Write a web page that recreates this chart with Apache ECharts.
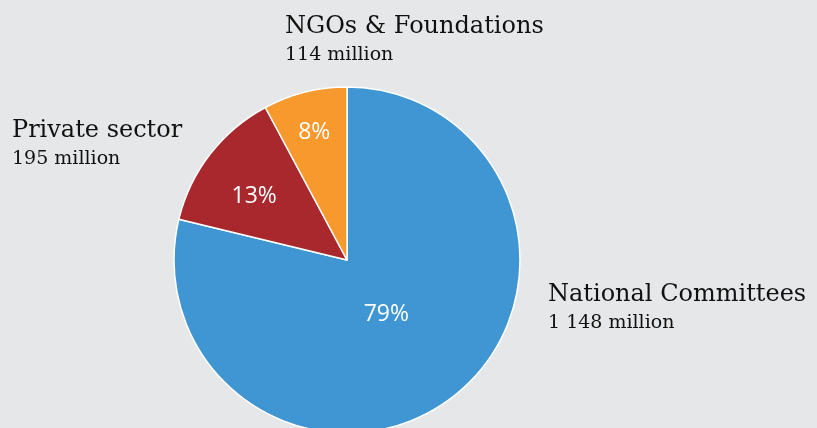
<!DOCTYPE html>
<html>
<head>
<meta charset="utf-8">
<script src="https://cdn.jsdelivr.net/npm/echarts@6/dist/echarts.min.js"></script>
<style>
  html, body { margin: 0; padding: 0; background: #e6e7e8; }
  #chart { width: 817px; height: 428px; }
</style>
</head>
<body>
<div id="chart"></div>
<script>
// funding sources, in millions
const categories = ['National Committees', 'Private sector', 'NGOs & Foundations']
const amounts = [1148, 195, 114]
const amountLabels = ['1 148 million', '195 million', '114 million']
const percentLabels = ['79%', '13%', '8%']

const colors = ['#4096d3', '#a9282d', '#f8992e']

// nudge of the percent labels from the default inner position
const percentOffsets = [[-16, -16], [-22, -9], [-11, -41]]
// where the name/amount labels sit
const namePositions = [[548, 280], [12, 116], [285, 12]]

const chart = echarts.init(document.getElementById('chart'))

const pieData = categories.map((name, i) => ({
  name: name,
  value: amounts[i],
  itemStyle: { color: colors[i] }
}))

chart.setOption({
  backgroundColor: '#e6e7e8',
  animation: false,
  series: [
    {
      type: 'pie',
      center: [347, 260],
      radius: [0, 173],
      startAngle: 90,
      clockwise: true,
      silent: true,
      data: pieData,
      itemStyle: { borderColor: '#ffffff', borderWidth: 1.5 },
      label: {
        position: 'inside',
        color: '#ffffff',
        fontFamily: 'Open Sans',
        fontSize: 23,
        formatter: (p) => percentLabels[p.dataIndex]
      },
      labelLine: { show: false },
      labelLayout: (p) => ({
        dx: percentOffsets[p.dataIndex][0],
        dy: percentOffsets[p.dataIndex][1]
      })
    },
    {
      type: 'pie',
      center: [347, 260],
      radius: [0, 173],
      startAngle: 90,
      silent: true,
      avoidLabelOverlap: false,
      data: categories.map((name, i) => ({ name: name, value: amounts[i] })),
      itemStyle: { color: 'rgba(0,0,0,0)', borderWidth: 0 },
      label: {
        position: 'outside',
        overflow: 'none',
        formatter: (p) => '{n|' + p.name + '}\n{v|' + amountLabels[p.dataIndex] + '}',
        rich: {
          n: { fontFamily: 'DejaVu Serif', fontSize: 24, color: '#111111', lineHeight: 30 },
          v: { fontFamily: 'DejaVu Serif', fontSize: 19, color: '#111111', lineHeight: 26 }
        }
      },
      labelLine: { show: false },
      labelLayout: (p) => ({
        x: namePositions[p.dataIndex][0],
        y: namePositions[p.dataIndex][1],
        align: 'left',
        verticalAlign: 'top'
      })
    }
  ]
})
</script>
</body>
</html>
